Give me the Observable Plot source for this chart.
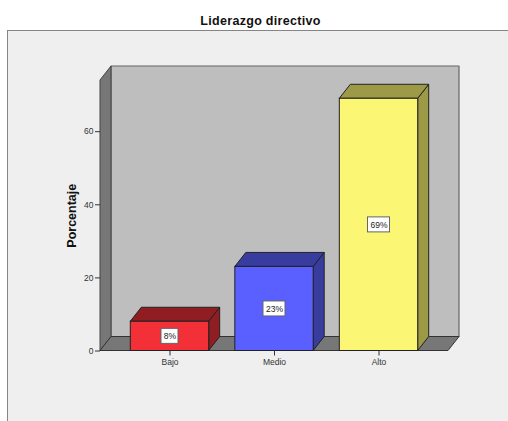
<!DOCTYPE html>
<html>
<head>
<meta charset="utf-8">
<script src="https://cdn.jsdelivr.net/npm/d3@7"></script>
<script src="https://cdn.jsdelivr.net/npm/@observablehq/plot@0.6"></script>
<style>
html,body{margin:0;padding:0;background:#fff;width:508px;height:421px;overflow:hidden}
#title{position:absolute;left:7px;right:-6px;top:12px;padding-top:1px;text-align:center;font:bold 12.5px "Liberation Sans",Arial,sans-serif;color:#111;line-height:16px;letter-spacing:.3px}
#panel{position:absolute;left:7px;top:30px;width:501px;height:391px;box-sizing:border-box;border:solid #858585;border-width:1px 0 0 1px;background:#efefef}
#chart{position:absolute;left:0;top:30px}
#chart svg{display:block;background:transparent}
</style>
</head>
<body>
<div id="title">Liderazgo directivo</div>
<div id="panel"></div>
<div id="chart"></div>
<script>
const categories = ["Bajo", "Medio", "Alto"];
const values = [8, 23, 69];
const labels = ["8%", "23%", "69%"];
const frontColors = ["#f33038", "#5a5fff", "#fbf774"];
const shadeColors = ["#8f1d22", "#383c9e", "#9c9947"];
const yTicks = [0, 20, 40, 60];
const yMax = 74;

const depthX = 11, depthY = 14;
const rows = categories.map((c, i) => ({category: c, value: values[i], label: labels[i], front: frontColors[i], shade: shadeColors[i]}));

function poly(g, pts, fill, stroke, sw) {
  g.append("polygon").attr("points", pts.map(p => p.join(",")).join(" "))
    .attr("fill", fill).attr("stroke", stroke).attr("stroke-width", sw).attr("stroke-linejoin", "round");
}
function bandOf(s) { return typeof s.bandwidth === "function" ? s.bandwidth() : s.bandwidth; }

function walls(index, scales, values, dim) {
  const g = d3.create("svg:g");
  const l = dim.marginLeft, r = dim.width - dim.marginRight, b = dim.height - dim.marginBottom, t = dim.marginTop;
  poly(g, [[l + depthX, t - depthY], [r + depthX, t - depthY], [r + depthX, b - depthY], [l + depthX, b - depthY]], "#bebebe", "#666", 1.2);
  poly(g, [[l, t], [l + depthX, t - depthY], [l + depthX, b - depthY], [l, b]], "#777", "#444", 1);
  poly(g, [[l, b], [l + depthX, b - depthY], [r + depthX, b - depthY], [r, b]], "#777", "#333", 1);
  return g.node();
}
function extrusions(index, scales) {
  const g = d3.create("svg:g");
  const w = bandOf(scales.x);
  for (const d of rows) {
    const x0 = scales.x(d.category), x1 = x0 + w, y0 = scales.y(0), y1 = scales.y(d.value);
    poly(g, [[x1, y0], [x1 + depthX, y0 - depthY], [x1 + depthX, y1 - depthY], [x1, y1]], d.shade, "#222", 1);
    poly(g, [[x0, y1], [x0 + depthX, y1 - depthY], [x1 + depthX, y1 - depthY], [x1, y1]], d.shade, "#222", 1);
  }
  return g.node();
}
function labelBoxes(index, scales) {
  const g = d3.create("svg:g");
  const w = bandOf(scales.x);
  for (const d of rows) {
    const bw = 7 + 5 * d.label.length, bh = 15;
    g.append("rect")
      .attr("x", scales.x(d.category) + w / 2 - bw / 2)
      .attr("y", scales.y(d.value / 2) - bh / 2)
      .attr("width", bw).attr("height", bh)
      .attr("fill", "#fff").attr("stroke", "#666").attr("stroke-width", 1);
  }
  return g.node();
}

const font = '"Liberation Sans",Arial,sans-serif';
const chart = Plot.plot({
  width: 508,
  height: 391,
  marginLeft: 100,
  marginRight: 60,
  marginTop: 50,
  marginBottom: 70.5,
  style: {fontFamily: font, fontSize: "9px", color: "#333", background: "transparent"},
  x: {domain: categories, paddingInner: 0.25, paddingOuter: 0.29, round: false, label: null},
  y: {domain: [0, yMax], label: null},
  marks: [
    walls,
    extrusions,
    Plot.barY(rows, {x: "category", y: "value", fill: "front", stroke: "#222", strokeWidth: 1}),
    labelBoxes,
    Plot.text(rows, {x: "category", y: d => d.value / 2, text: "label", fontSize: 8.5, fill: "#222"}),
    Plot.axisY({ticks: yTicks, tickSize: 5, tickPadding: 2, label: null, fontSize: 8.5, stroke: "#333"}),
    Plot.axisY({ticks: [], label: "Porcentaje", labelArrow: "none", labelAnchor: "center", labelOffset: 33, fontSize: 12.5, fontWeight: "bold", fill: "#111"}),
    Plot.axisX({tickSize: 5, tickPadding: 3, label: null, fontSize: 8.5, stroke: "#333"})
  ]
});
document.getElementById("chart").appendChild(chart);
</script>
</body>
</html>
